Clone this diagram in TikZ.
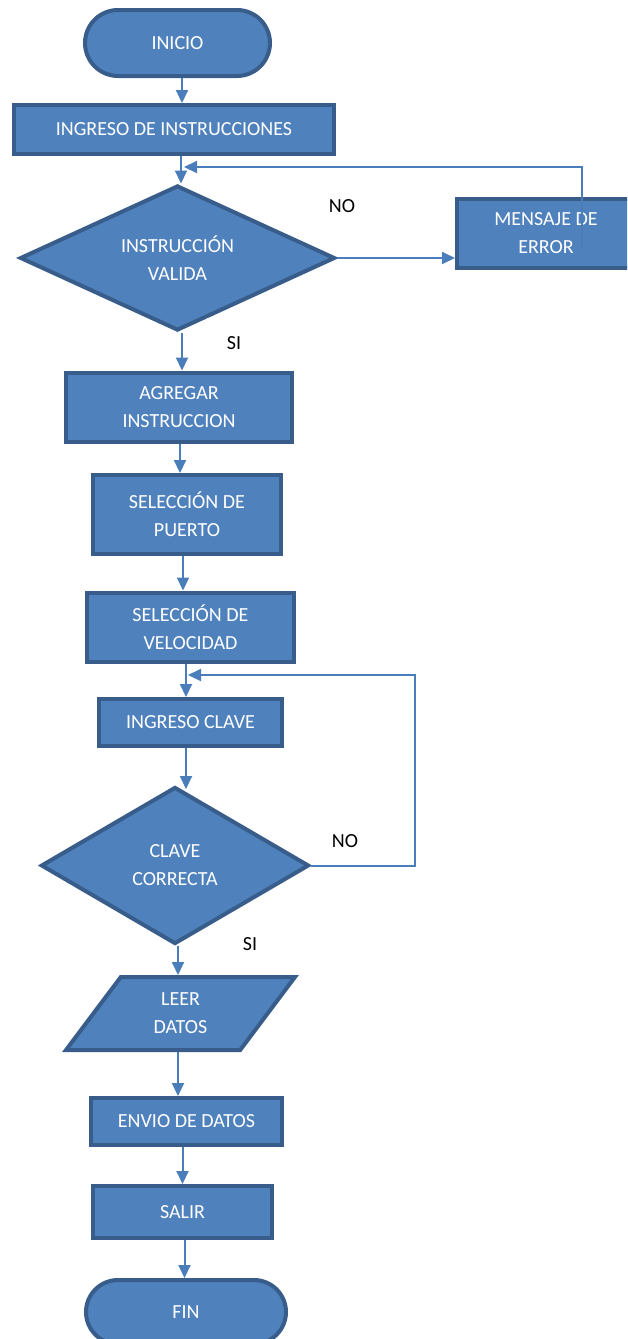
\documentclass[tikz,border=0pt]{standalone}
\usepackage{fontspec}
\setmainfont{Carlito}
\usetikzlibrary{shapes.geometric,shapes.misc,arrows.meta}
\definecolor{fillb}{HTML}{4F81BD}
\definecolor{edgeb}{HTML}{385D8A}
\definecolor{linkb}{HTML}{4A7EBB}
\begin{document}
\begin{tikzpicture}[x=1pt,y=-1pt,
 base/.style={draw=edgeb, fill=fillb, line width=4pt, text=white, font=\fontsize{20}{28}\selectfont, align=center, inner sep=0pt},
 box/.style={base, rectangle},
 term/.style={base, rounded rectangle},
 dec/.style={base, diamond},
 io/.style={base, trapezium, trapezium left angle=59, trapezium right angle=121, trapezium stretches=true},
 arr/.style={draw=linkb, line width=2pt, -{Triangle[width=12pt,length=13pt]}},
 lab/.style={font=\fontsize{20}{28}\selectfont, text=black, inner sep=0pt}]
\clip (0,0) rectangle (627,1339);
\fill[white] (0,0) rectangle (627,1339);
% nodes
\node[term, minimum width=185, minimum height=66] (inicio) at (177.5,43) {INICIO};
\node[box, minimum width=320, minimum height=49] (ingreso) at (174,129.5) {INGRESO DE INSTRUCCIONES};
\node[dec, aspect=2.17, minimum width=315, minimum height=145] (val) at (177.5,258) {INSTRUCCIÓN\\VALIDA};
\node[box, minimum width=178, minimum height=69] (err) at (546,233.5) {MENSAJE DE\\ERROR};
\node[box, minimum width=226, minimum height=69] (agr) at (179,407) {AGREGAR\\INSTRUCCION};
\node[box, minimum width=188, minimum height=79] (pto) at (187,514.5) {SELECCIÓN DE\\PUERTO};
\node[box, minimum width=207, minimum height=69] (vel) at (190.5,627) {SELECCIÓN DE\\VELOCIDAD};
\node[box, minimum width=183, minimum height=47] (clave) at (190.5,722.5) {INGRESO CLAVE};
\node[dec, aspect=1.7, minimum width=268, minimum height=157] (corr) at (175,865.5) {CLAVE\\CORRECTA};
\node[io, minimum width=229, minimum height=73] (leer) at (180.5,1013.5) {LEER\\DATOS};
\node[box, minimum width=191, minimum height=47] (envio) at (186.5,1121.5) {ENVIO DE DATOS};
\node[box, minimum width=179, minimum height=52] (salir) at (182.5,1212) {SALIR};
\node[term, minimum width=200, minimum height=64] (fin) at (186,1312) {FIN};
% labels
\fill[white] (207,318) rectangle (272,369);
\fill[white] (222,925) rectangle (288,973.5);
\node[lab] (no1) at (342,206) {NO};
\node[lab] (si1) at (234,343) {SI};
\node[lab] (no2) at (345,841) {NO};
\node[lab] (si2) at (250,944) {SI};
% columns and joints
\coordinate (c1) at (182,0);
\coordinate (c2) at (181,0);
\coordinate (c3) at (182,0);
\coordinate (c4) at (180,0);
\coordinate (c5) at (183,0);
\coordinate (c6) at (186,0);
\coordinate (c8) at (178,0);
\coordinate (c10) at (182.5,0);
\coordinate (c11) at (184.5,0);
\coordinate (errout) at (582,250);
\coordinate (j1) at (184,167);
\coordinate (j2) at (188,675);
% connectors
\draw[arr] (inicio.south -| c1) -- (ingreso.north -| c1);
\draw[arr] (ingreso.south -| c2) -- (val.north -| c2);
\draw[arr] (val.east) -- (err.west |- val.east);
\draw[arr] (errout) |- (j1);
\draw[arr] (val.south -| c3) -- (agr.north -| c3);
\draw[arr] (agr.south -| c4) -- (pto.north -| c4);
\draw[arr] (pto.south -| c5) -- (vel.north -| c5);
\draw[arr] (vel.south -| c6) -- (clave.north -| c6);
\draw[arr] (clave.south -| c6) -- ([yshift=-4pt]corr.north -| c6);
\draw[arr] (corr.east) -- ++(104,0) |- (j2);
\draw[arr] (corr.south -| c8) -- (leer.north -| c8);
\draw[arr] (leer.south -| c8) -- (envio.north -| c8);
\draw[arr] (envio.south -| c10) -- (salir.north -| c10);
\draw[arr] (salir.south -| c11) -- (fin.north -| c11);
\end{tikzpicture}
\end{document}
